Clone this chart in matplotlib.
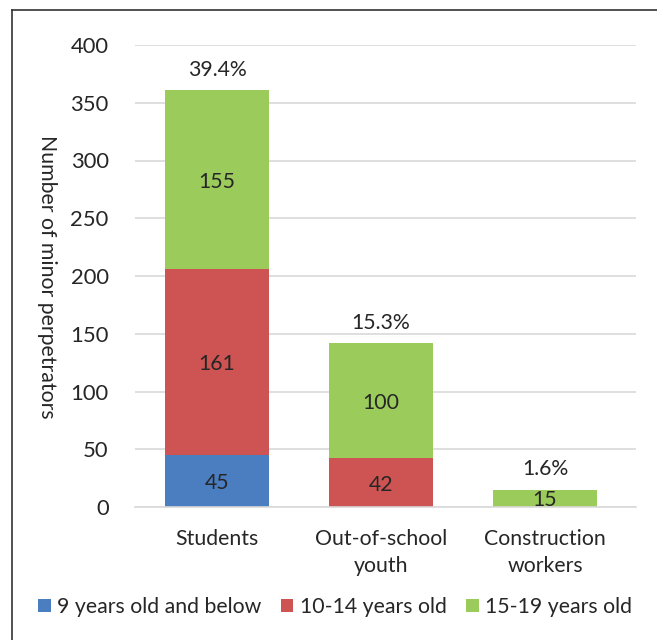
from matplotlib import pyplot as plt
from matplotlib.lines import Line2D
import numpy as np

categories = ["Students", "Out-of-school\nyouth", "Construction\nworkers"]
age_groups = ["9 years old and below", "10-14 years old", "15-19 years old"]
values = [[45, 0, 0], [161, 42, 0], [155, 100, 15]]
shares = ["39.4%", "15.3%", "1.6%"]
colors = ["#4A7EC1", "#CD5452", "#9BCB5B"]

plt.rcParams['font.family'] = ['Lato', 'DejaVu Sans']
plt.rcParams['text.color'] = '#262626'
fs = 15.3

fig = plt.figure(figsize=(6.57, 6.4), dpi=100)
ax = fig.add_axes([135/657, 133/640, 501/657, 462/640])

x = np.arange(len(categories))
bottom = np.zeros(len(categories))
for vals, lab, col in zip(values, age_groups, colors):
    vals = np.array(vals, dtype=float)
    ax.bar(x, vals, width=0.64, bottom=bottom, color=col, label=lab, zorder=2)
    for xi, b, v in zip(x, bottom, vals):
        if v > 0:
            ax.text(xi, b + v/2, f"{int(v)}", ha='center', va='center_baseline',
                    fontsize=fs, color='#262626', zorder=3)
    bottom += vals

for xi, tot, s in zip(x, bottom, shares):
    ax.text(xi, tot + 9, s, ha='center', va='bottom', fontsize=fs, color='#262626')

ax.set_xlim(-0.5, 2.555)
ax.set_ylim(0, 400)
ax.set_yticks(np.arange(0, 401, 50))
ax.set_xticks(x)
ax.set_xticklabels(categories, fontsize=fs, color='#262626', linespacing=1.45)
ax.tick_params(axis='y', labelsize=15.8, labelcolor='#262626', length=0, pad=19)
ax.tick_params(axis='x', length=0, pad=16)
ax.grid(axis='y', color='#D9D9D9', linewidth=1.2, zorder=0)
ax.set_axisbelow(True)
for sp in ['top', 'right', 'left']:
    ax.spines[sp].set_visible(False)
ax.spines['bottom'].set_color('#D9D9D9')
ax.spines['bottom'].set_linewidth(1.2)

fig.text(47/657, 1 - 277/640, "Number of minor perpetrators", rotation=270,
         ha='center', va='center', fontsize=fs, color='#262626')

fig.legend(loc='center', bbox_to_anchor=(335/657, 1 - 607/640), ncol=3, frameon=False,
           fontsize=fs, handlelength=0.6, handleheight=0.6, handletextpad=0.3,
           columnspacing=0.9, borderpad=0)

# frame around the figure (left and top edges)
fig.add_artist(Line2D([12/657, 12/657], [0, 1 - 10/640], transform=fig.transFigure, color='#333333', lw=1.2))
fig.add_artist(Line2D([12/657, 1], [1 - 10/640, 1 - 10/640], transform=fig.transFigure, color='#333333', lw=1.2))

plt.savefig("out.png", dpi=100)
